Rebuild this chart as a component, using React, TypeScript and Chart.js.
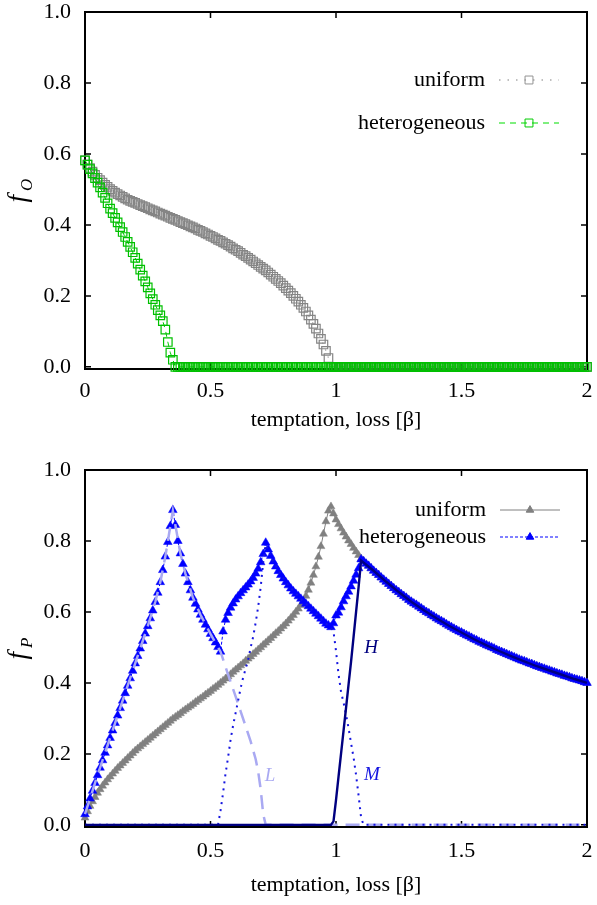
import React, { useEffect, useRef } from "react";
import { Chart, registerables } from "chart.js";

Chart.register(...registerables);

const FONT = '"Liberation Serif", "Times New Roman", serif';

// ---------- categories (x grid, step 0.01) ----------
const xGrid = [
  0, 0.01, 0.02, 0.03, 0.04, 0.05, 0.06, 0.07, 0.08, 0.09,
  0.1, 0.11, 0.12, 0.13, 0.14, 0.15, 0.16, 0.17, 0.18, 0.19,
  0.2, 0.21, 0.22, 0.23, 0.24, 0.25, 0.26, 0.27, 0.28, 0.29,
  0.3, 0.31, 0.32, 0.33, 0.34, 0.35, 0.36, 0.37, 0.38, 0.39,
  0.4, 0.41, 0.42, 0.43, 0.44, 0.45, 0.46, 0.47, 0.48, 0.49,
  0.5, 0.51, 0.52, 0.53, 0.54, 0.55, 0.56, 0.57, 0.58, 0.59,
  0.6, 0.61, 0.62, 0.63, 0.64, 0.65, 0.66, 0.67, 0.68, 0.69,
  0.7, 0.71, 0.72, 0.73, 0.74, 0.75, 0.76, 0.77, 0.78, 0.79,
  0.8, 0.81, 0.82, 0.83, 0.84, 0.85, 0.86, 0.87, 0.88, 0.89,
  0.9, 0.91, 0.92, 0.93, 0.94, 0.95, 0.96, 0.97, 0.98, 0.99,
  1, 1.01, 1.02, 1.03, 1.04, 1.05, 1.06, 1.07, 1.08, 1.09,
  1.1, 1.11, 1.12, 1.13, 1.14, 1.15, 1.16, 1.17, 1.18, 1.19,
  1.2, 1.21, 1.22, 1.23, 1.24, 1.25, 1.26, 1.27, 1.28, 1.29,
  1.3, 1.31, 1.32, 1.33, 1.34, 1.35, 1.36, 1.37, 1.38, 1.39,
  1.4, 1.41, 1.42, 1.43, 1.44, 1.45, 1.46, 1.47, 1.48, 1.49,
  1.5, 1.51, 1.52, 1.53, 1.54, 1.55, 1.56, 1.57, 1.58, 1.59,
  1.6, 1.61, 1.62, 1.63, 1.64, 1.65, 1.66, 1.67, 1.68, 1.69,
  1.7, 1.71, 1.72, 1.73, 1.74, 1.75, 1.76, 1.77, 1.78, 1.79,
  1.8, 1.81, 1.82, 1.83, 1.84, 1.85, 1.86, 1.87, 1.88, 1.89,
  1.9, 1.91, 1.92, 1.93, 1.94, 1.95, 1.96, 1.97, 1.98, 1.99,
  2,
];

// ---------- top panel: f_O ----------
const topUniform = [
  0.582, 0.570, 0.560, 0.550, 0.541, 0.533, 0.526, 0.519, 0.513, 0.507,
  0.501, 0.496, 0.491, 0.487, 0.483, 0.479, 0.475, 0.471, 0.468, 0.465,
  0.462, 0.459, 0.456, 0.453, 0.450, 0.447, 0.444, 0.441, 0.438, 0.435,
  0.432, 0.429, 0.426, 0.423, 0.420, 0.417, 0.414, 0.411, 0.408, 0.405,
  0.402, 0.399, 0.396, 0.393, 0.390, 0.386, 0.383, 0.380, 0.376, 0.373,
  0.369, 0.366, 0.362, 0.358, 0.355, 0.351, 0.347, 0.343, 0.339, 0.334,
  0.330, 0.326, 0.321, 0.316, 0.312, 0.307, 0.302, 0.297, 0.292, 0.287,
  0.282, 0.277, 0.272, 0.266, 0.260, 0.254, 0.248, 0.242, 0.236, 0.229,
  0.222, 0.215, 0.208, 0.200, 0.192, 0.184, 0.175, 0.166, 0.156, 0.145,
  0.133, 0.121, 0.108, 0.094, 0.079, 0.063, 0.045, 0.025, 0, 0,
  0, 0, 0, 0, 0, 0, 0, 0, 0, 0,
  0, 0, 0, 0, 0, 0, 0, 0, 0, 0,
  0, 0, 0, 0, 0, 0, 0, 0, 0, 0,
  0, 0, 0, 0, 0, 0, 0, 0, 0, 0,
  0, 0, 0, 0, 0, 0, 0, 0, 0, 0,
  0, 0, 0, 0, 0, 0, 0, 0, 0, 0,
  0, 0, 0, 0, 0, 0, 0, 0, 0, 0,
  0, 0, 0, 0, 0, 0, 0, 0, 0, 0,
  0, 0, 0, 0, 0, 0, 0, 0, 0, 0,
  0, 0, 0, 0, 0, 0, 0, 0, 0, 0,
  0,
];

const topHetero = [
  0.582, 0.570, 0.557, 0.545, 0.532, 0.519, 0.506, 0.491, 0.476, 0.461,
  0.446, 0.433, 0.420, 0.407, 0.394, 0.380, 0.366, 0.352, 0.338, 0.323,
  0.307, 0.291, 0.274, 0.257, 0.241, 0.224, 0.207, 0.191, 0.175, 0.160,
  0.145, 0.129, 0.105, 0.070, 0.040, 0.020, 0, 0, 0, 0,
  0, 0, 0, 0, 0, 0, 0, 0, 0, 0,
  0, 0, 0, 0, 0, 0, 0, 0, 0, 0,
  0, 0, 0, 0, 0, 0, 0, 0, 0, 0,
  0, 0, 0, 0, 0, 0, 0, 0, 0, 0,
  0, 0, 0, 0, 0, 0, 0, 0, 0, 0,
  0, 0, 0, 0, 0, 0, 0, 0, 0, 0,
  0, 0, 0, 0, 0, 0, 0, 0, 0, 0,
  0, 0, 0, 0, 0, 0, 0, 0, 0, 0,
  0, 0, 0, 0, 0, 0, 0, 0, 0, 0,
  0, 0, 0, 0, 0, 0, 0, 0, 0, 0,
  0, 0, 0, 0, 0, 0, 0, 0, 0, 0,
  0, 0, 0, 0, 0, 0, 0, 0, 0, 0,
  0, 0, 0, 0, 0, 0, 0, 0, 0, 0,
  0, 0, 0, 0, 0, 0, 0, 0, 0, 0,
  0, 0, 0, 0, 0, 0, 0, 0, 0, 0,
  0, 0, 0, 0, 0, 0, 0, 0, 0, 0,
  0,
];

// ---------- bottom panel: f_P ----------
const botUniform = [
  0.020, 0.038, 0.053, 0.066, 0.078, 0.090, 0.100, 0.110, 0.119, 0.128,
  0.136, 0.144, 0.152, 0.160, 0.167, 0.174, 0.181, 0.188, 0.195, 0.202,
  0.209, 0.215, 0.221, 0.227, 0.233, 0.239, 0.245, 0.251, 0.257, 0.263,
  0.269, 0.275, 0.281, 0.287, 0.293, 0.299, 0.304, 0.309, 0.314, 0.320,
  0.325, 0.330, 0.335, 0.340, 0.346, 0.351, 0.356, 0.361, 0.367, 0.372,
  0.377, 0.383, 0.388, 0.394, 0.400, 0.406, 0.412, 0.418, 0.424, 0.431,
  0.437, 0.443, 0.449, 0.455, 0.462, 0.468, 0.474, 0.481, 0.487, 0.494,
  0.500, 0.507, 0.513, 0.520, 0.526, 0.533, 0.540, 0.546, 0.553, 0.560,
  0.567, 0.575, 0.583, 0.591, 0.600, 0.609, 0.619, 0.631, 0.645, 0.662,
  0.682, 0.704, 0.728, 0.755, 0.785, 0.820, 0.855, 0.885, 0.897, 0.877,
  0.860, 0.847, 0.835, 0.823, 0.812, 0.801, 0.791, 0.780, 0.770, 0.760,
  0.750, 0.743, 0.736, 0.730, 0.723, 0.716, 0.710, 0.704, 0.697, 0.691,
  0.685, 0.679, 0.673, 0.667, 0.661, 0.656, 0.650, 0.645, 0.640, 0.634,
  0.629, 0.624, 0.620, 0.615, 0.610, 0.605, 0.600, 0.596, 0.591, 0.587,
  0.582, 0.578, 0.574, 0.570, 0.565, 0.561, 0.557, 0.553, 0.549, 0.545,
  0.542, 0.538, 0.534, 0.531, 0.527, 0.523, 0.520, 0.516, 0.513, 0.510,
  0.506, 0.503, 0.500, 0.497, 0.493, 0.490, 0.487, 0.484, 0.481, 0.478,
  0.475, 0.472, 0.469, 0.466, 0.463, 0.461, 0.458, 0.455, 0.453, 0.450,
  0.447, 0.445, 0.442, 0.440, 0.437, 0.435, 0.432, 0.430, 0.427, 0.425,
  0.423, 0.420, 0.418, 0.416, 0.413, 0.411, 0.409, 0.407, 0.405, 0.402,
  0.400,
];

const botHetero = [
  0.030, 0.052, 0.074, 0.096, 0.118, 0.140, 0.161, 0.182, 0.203, 0.224,
  0.245, 0.266, 0.287, 0.308, 0.329, 0.350, 0.371, 0.392, 0.413, 0.434,
  0.455, 0.476, 0.497, 0.518, 0.539, 0.560, 0.582, 0.604, 0.628, 0.654,
  0.684, 0.718, 0.756, 0.797, 0.842, 0.887, 0.845, 0.800, 0.765, 0.735,
  0.708, 0.684, 0.661, 0.640, 0.623, 0.607, 0.592, 0.578, 0.564, 0.551,
  0.538, 0.526, 0.514, 0.501, 0.488, 0.545, 0.578, 0.597, 0.612, 0.624,
  0.635, 0.644, 0.653, 0.661, 0.669, 0.677, 0.686, 0.696, 0.708, 0.722,
  0.740, 0.763, 0.795, 0.776, 0.758, 0.742, 0.728, 0.715, 0.704, 0.694,
  0.684, 0.675, 0.666, 0.658, 0.651, 0.644, 0.637, 0.630, 0.623, 0.616,
  0.609, 0.602, 0.595, 0.588, 0.581, 0.574, 0.567, 0.562, 0.557, 0.568,
  0.590, 0.598, 0.613, 0.630, 0.644, 0.657, 0.672, 0.688, 0.705, 0.723,
  0.748, 0.743, 0.736, 0.730, 0.723, 0.716, 0.710, 0.704, 0.697, 0.691,
  0.685, 0.679, 0.673, 0.667, 0.661, 0.656, 0.650, 0.645, 0.640, 0.634,
  0.629, 0.624, 0.620, 0.615, 0.610, 0.605, 0.600, 0.596, 0.591, 0.587,
  0.582, 0.578, 0.574, 0.570, 0.565, 0.561, 0.557, 0.553, 0.549, 0.545,
  0.542, 0.538, 0.534, 0.531, 0.527, 0.523, 0.520, 0.516, 0.513, 0.510,
  0.506, 0.503, 0.500, 0.497, 0.493, 0.490, 0.487, 0.484, 0.481, 0.478,
  0.475, 0.472, 0.469, 0.466, 0.463, 0.461, 0.458, 0.455, 0.453, 0.450,
  0.447, 0.445, 0.442, 0.440, 0.437, 0.435, 0.432, 0.430, 0.427, 0.425,
  0.423, 0.420, 0.418, 0.416, 0.413, 0.411, 0.409, 0.407, 0.405, 0.402,
  0.400,
];

// component curves L, M, H (no markers)
const lX = [0, 0.05, 0.1, 0.15, 0.2, 0.25, 0.28, 0.3, 0.32, 0.34, 0.35, 0.36, 0.38, 0.4, 0.43, 0.46, 0.5, 0.54, 0.56, 0.58, 0.6, 0.62, 0.64, 0.66, 0.68, 0.69, 0.7, 0.71, 0.72, 2.0];
const lY = [0.03, 0.14, 0.245, 0.35, 0.455, 0.56, 0.628, 0.684, 0.756, 0.842, 0.885, 0.845, 0.765, 0.708, 0.64, 0.592, 0.538, 0.488, 0.445, 0.403, 0.362, 0.32, 0.278, 0.235, 0.185, 0.15, 0.1, 0.03, 0, 0];

const mX = [0, 0.53, 0.54, 0.55, 0.56, 0.57, 0.58, 0.59, 0.6, 0.61, 0.62, 0.63, 0.64, 0.65, 0.66, 0.67, 0.68, 0.69, 0.7, 0.71, 0.72, 0.75, 0.8, 0.85, 0.9, 0.95, 0.98, 0.99, 1.0, 1.01, 1.02, 1.03, 1.04, 1.05, 1.06, 1.07, 1.08, 1.09, 1.1, 1.11, 2.0];
const mY = [0, 0, 0.04, 0.09, 0.145, 0.19, 0.24, 0.28, 0.315, 0.35, 0.385, 0.415, 0.44, 0.465, 0.5, 0.53, 0.57, 0.615, 0.67, 0.74, 0.79, 0.742, 0.684, 0.644, 0.609, 0.574, 0.555, 0.545, 0.49, 0.425, 0.375, 0.345, 0.31, 0.273, 0.23, 0.19, 0.14, 0.083, 0.02, 0, 0];

const hX = [0, 0.98, 0.99, 1.0, 1.01, 1.02, 1.03, 1.04, 1.05, 1.06, 1.07, 1.08, 1.09, 1.1, 1.15, 1.2, 1.25, 1.3, 1.35, 1.4, 1.45, 1.5, 1.55, 1.6, 1.65, 1.7, 1.75, 1.8, 1.85, 1.9, 1.95, 2.0];
const hY = [0, 0, 0.01, 0.07, 0.135, 0.2, 0.265, 0.33, 0.395, 0.46, 0.53, 0.6, 0.67, 0.745, 0.716, 0.685, 0.656, 0.629, 0.605, 0.582, 0.561, 0.542, 0.523, 0.506, 0.49, 0.475, 0.461, 0.447, 0.435, 0.423, 0.411, 0.4];

// ---------- ticks & texts ----------
const xTicks = [0, 0.5, 1, 1.5, 2];
const xTickLabels = ["0", "0.5", "1", "1.5", "2"];
const yTicks = [0, 0.2, 0.4, 0.6, 0.8, 1.0];
const yTickLabels = ["0.0", "0.2", "0.4", "0.6", "0.8", "1.0"];
const xTitle = "temptation, loss [β]";
const seriesNames = ["uniform", "heterogeneous"];
const curveLabels = ["H", "M", "L"];

const pts = (xs: number[], ys: number[]) => xs.map((x, i) => ({ x, y: ys[i] }));

function makeScales(xAxisHeight: number, xPad: number) {
  return {
    x: {
      type: "linear" as const,
      min: 0,
      max: 2,
      afterBuildTicks: (ax: any) => {
        ax.ticks = xTicks.map((v) => ({ value: v }));
      },
      afterFit: (s: any) => {
        s.height = xAxisHeight;
        s.paddingLeft = 0;
        s.paddingRight = 0;
      },
      ticks: {
        autoSkip: false,
        maxRotation: 0,
        minRotation: 0,
        padding: xPad,
        color: "#000",
        font: { family: FONT, size: 22, lineHeight: 1 },
        callback: (_v: any, i: number) => xTickLabels[i],
      },
      grid: { display: false, drawTicks: false },
      border: { display: false },
    },
    y: {
      type: "linear" as const,
      min: -0.006,
      max: 1,
      afterBuildTicks: (ax: any) => {
        ax.ticks = yTicks.map((v) => ({ value: v }));
      },
      afterFit: (s: any) => {
        s.width = 85;
        s.paddingTop = 0;
        s.paddingBottom = 0;
      },
      ticks: {
        autoSkip: false,
        padding: 14,
        color: "#000",
        font: { family: FONT, size: 22, lineHeight: 1 },
        callback: (_v: any, i: number) => yTickLabels[i],
      },
      grid: { display: false, drawTicks: false },
      border: { display: false },
    },
  };
}

const framePlugin = {
  id: "gnuFrame",
  beforeDatasetsDraw(chart: any) {
    const { ctx, chartArea: a, scales } = chart;
    ctx.save();
    ctx.strokeStyle = "#000";
    ctx.lineWidth = 2;
    ctx.strokeRect(a.left, a.top, a.right - a.left, a.bottom - a.top);
    ctx.lineWidth = 1.5;
    const tl = 6;
    ctx.beginPath();
    xTicks.forEach((v) => {
      const px = scales.x.getPixelForValue(v);
      ctx.moveTo(px, a.bottom);
      ctx.lineTo(px, a.bottom - tl);
      ctx.moveTo(px, a.top);
      ctx.lineTo(px, a.top + tl);
    });
    yTicks.forEach((v) => {
      const py = scales.y.getPixelForValue(v);
      ctx.moveTo(a.left, py);
      ctx.lineTo(a.left + tl, py);
      ctx.moveTo(a.right, py);
      ctx.lineTo(a.right - tl, py);
    });
    ctx.stroke();
    ctx.restore();
  },
};

type LegendEntry = {
  label: string;
  y: number;
  color: string;
  dash: number[];
  lineWidth: number;
  marker: "rect" | "triangle";
  markerColor: string;
  fill: boolean;
  markerR: number;
};

function drawMarker(ctx: CanvasRenderingContext2D, kind: string, x: number, y: number, r: number, color: string, fill: boolean) {
  ctx.save();
  ctx.setLineDash([]);
  ctx.strokeStyle = color;
  ctx.fillStyle = color;
  ctx.lineWidth = 1;
  ctx.beginPath();
  if (kind === "rect") {
    const s = Math.SQRT1_2 * r;
    ctx.rect(x - s, y - s, 2 * s, 2 * s);
  } else {
    let rad = 0;
    ctx.moveTo(x + Math.sin(rad) * r, y - Math.cos(rad) * r);
    rad += (2 * Math.PI) / 3;
    ctx.lineTo(x + Math.sin(rad) * r, y - Math.cos(rad) * r);
    rad += (2 * Math.PI) / 3;
    ctx.lineTo(x + Math.sin(rad) * r, y - Math.cos(rad) * r);
    ctx.closePath();
  }
  if (fill) ctx.fill();
  ctx.stroke();
  ctx.restore();
}

function makeDecor(cfg: {
  legend: LegendEntry[];
  textRight: number;
  sx0: number;
  sx1: number;
  sub: string;
  titleY: number;
  labels: { text: string; x: number; y: number; color: string }[];
}) {
  return {
    id: "gnuDecor",
    afterDraw(chart: any) {
      const { ctx, chartArea: a } = chart;
      ctx.save();
      // legend
      ctx.font = `22px ${FONT}`;
      ctx.textAlign = "right";
      ctx.textBaseline = "middle";
      cfg.legend.forEach((e) => {
        ctx.fillStyle = "#000";
        ctx.fillText(e.label, cfg.textRight, e.y);
        ctx.save();
        ctx.strokeStyle = e.color;
        ctx.lineWidth = e.lineWidth;
        ctx.setLineDash(e.dash);
        ctx.beginPath();
        ctx.moveTo(cfg.sx0, e.y);
        ctx.lineTo(cfg.sx1, e.y);
        ctx.stroke();
        ctx.restore();
        drawMarker(ctx, e.marker, (cfg.sx0 + cfg.sx1) / 2, e.y, e.markerR, e.markerColor, e.fill);
      });
      // x title
      ctx.fillStyle = "#000";
      ctx.textAlign = "center";
      ctx.textBaseline = "middle";
      ctx.font = `22px ${FONT}`;
      ctx.fillText(xTitle, (a.left + a.right) / 2, cfg.titleY);
      // y title f_sub (rotated)
      const cy = (a.top + a.bottom) / 2;
      ctx.font = `italic 27px ${FONT}`;
      const wf = ctx.measureText("f").width;
      ctx.font = `italic 17px ${FONT}`;
      const ws = ctx.measureText(cfg.sub).width;
      const total = wf + 4 + ws;
      ctx.save();
      ctx.translate(26, cy + total / 2);
      ctx.rotate(-Math.PI / 2);
      ctx.textAlign = "left";
      ctx.textBaseline = "alphabetic";
      ctx.font = `italic 27px ${FONT}`;
      ctx.fillText("f", 0, 0);
      ctx.font = `italic 17px ${FONT}`;
      ctx.fillText(cfg.sub, wf + 4, 6);
      ctx.restore();
      // in-plot labels
      ctx.font = `italic 19px ${FONT}`;
      ctx.textAlign = "center";
      ctx.textBaseline = "middle";
      cfg.labels.forEach((l) => {
        ctx.fillStyle = l.color;
        ctx.fillText(l.text, l.x, l.y);
      });
      ctx.restore();
    },
  };
}

function topConfig(): any {
  return {
    type: "line",
    data: {
      datasets: [
        {
          label: seriesNames[1],
          data: pts(xGrid, topHetero),
          order: 1,
          borderColor: "#00cc00",
          borderWidth: 1,
          borderDash: [5, 5],
          pointStyle: "rect",
          pointRadius: 6,
          pointBorderWidth: 1.2,
          pointBorderColor: "#00c000",
          pointBackgroundColor: "rgba(0,0,0,0)",
          clip: false,
        },
        {
          label: seriesNames[0],
          data: pts(xGrid, topUniform),
          order: 2,
          borderColor: "#aaaaaa",
          borderWidth: 1.2,
          borderDash: [1.5, 6],
          pointStyle: "rect",
          pointRadius: 6,
          pointBorderWidth: 1.2,
          pointBorderColor: "#858585",
          pointBackgroundColor: "rgba(0,0,0,0)",
          clip: false,
        },
      ],
    },
    options: {
      animation: false,
      responsive: false,
      events: [],
      layout: { padding: { left: 0, right: 10, top: 12, bottom: 0 } },
      elements: { line: { tension: 0 } },
      plugins: { legend: { display: false }, tooltip: { enabled: false } },
      scales: makeScales(81, 11),
    },
    plugins: [
      framePlugin,
      makeDecor({
        legend: [
          { label: seriesNames[0], y: 80, color: "#aaaaaa", dash: [1.5, 7], lineWidth: 1.5, marker: "rect", markerColor: "#939393", fill: false, markerR: 5.6 },
          { label: seriesNames[1], y: 123, color: "#00dd00", dash: [6, 5], lineWidth: 1.2, marker: "rect", markerColor: "#00cc00", fill: false, markerR: 5.6 },
        ],
        textRight: 485,
        sx0: 499,
        sx1: 559,
        sub: "O",
        titleY: 420,
        labels: [],
      }),
    ],
  };
}

function botConfig(): any {
  return {
    type: "line",
    data: {
      datasets: [
        {
          label: curveLabels[0],
          data: pts(hX, hY),
          order: 1,
          borderColor: "#000080",
          borderWidth: 2.4,
          pointRadius: 0,
          clip: false,
        },
        {
          label: curveLabels[1],
          data: pts(mX, mY),
          order: 2,
          borderColor: "#1515e0",
          borderWidth: 2,
          borderDash: [2, 5],
          pointRadius: 0,
          clip: false,
        },
        {
          label: curveLabels[2],
          data: pts(lX, lY),
          order: 3,
          borderColor: "#a9a9f2",
          borderWidth: 2.5,
          borderDash: [14, 8],
          pointRadius: 0,
          clip: false,
        },
        {
          label: seriesNames[1],
          data: pts(xGrid, botHetero),
          order: 4,
          borderColor: "#0000ff",
          borderWidth: 1,
          borderDash: [3, 2],
          pointStyle: "triangle",
          pointRadius: 5,
          pointBorderWidth: 0.5,
          pointBorderColor: "#0000ff",
          pointBackgroundColor: "#0000ff",
          clip: false,
        },
        {
          label: seriesNames[0],
          data: pts(xGrid, botUniform),
          order: 5,
          borderColor: "#808080",
          borderWidth: 1,
          pointStyle: "triangle",
          pointRadius: 4.6,
          pointBorderWidth: 0.5,
          pointBorderColor: "#808080",
          pointBackgroundColor: "#808080",
          clip: false,
        },
      ],
    },
    options: {
      animation: false,
      responsive: false,
      events: [],
      layout: { padding: { left: 0, right: 10, top: 20, bottom: 0 } },
      elements: { line: { tension: 0 } },
      plugins: { legend: { display: false }, tooltip: { enabled: false } },
      scales: makeScales(78, 13),
    },
    plugins: [
      framePlugin,
      makeDecor({
        legend: [
          { label: seriesNames[0], y: 60, color: "#808080", dash: [], lineWidth: 1, marker: "triangle", markerColor: "#808080", fill: true, markerR: 4.4 },
          { label: seriesNames[1], y: 87, color: "#0000ff", dash: [3, 2], lineWidth: 1, marker: "triangle", markerColor: "#0000ff", fill: true, markerR: 4.4 },
        ],
        textRight: 486,
        sx0: 500,
        sx1: 560,
        sub: "P",
        titleY: 435,
        labels: [
          { text: curveLabels[0], x: 371, y: 198, color: "#000080" },
          { text: curveLabels[1], x: 372, y: 325, color: "#1515e0" },
          { text: curveLabels[2], x: 270, y: 326, color: "#a9a9f2" },
        ],
      }),
    ],
  };
}

export default function App() {
  const topRef = useRef<HTMLCanvasElement>(null);
  const botRef = useRef<HTMLCanvasElement>(null);
  useEffect(() => {
    const c1 = new Chart(topRef.current as HTMLCanvasElement, topConfig());
    const c2 = new Chart(botRef.current as HTMLCanvasElement, botConfig());
    return () => {
      c1.destroy();
      c2.destroy();
    };
  }, []);
  return (
    <div style={{ position: "absolute", left: 0, top: 0, width: 597, height: 905, background: "#fff" }}>
      <canvas ref={topRef} width={597} height={450} style={{ position: "absolute", left: 0, top: 0, display: "block" }} />
      <canvas ref={botRef} width={597} height={455} style={{ position: "absolute", left: 0, top: 450, display: "block" }} />
    </div>
  );
}
